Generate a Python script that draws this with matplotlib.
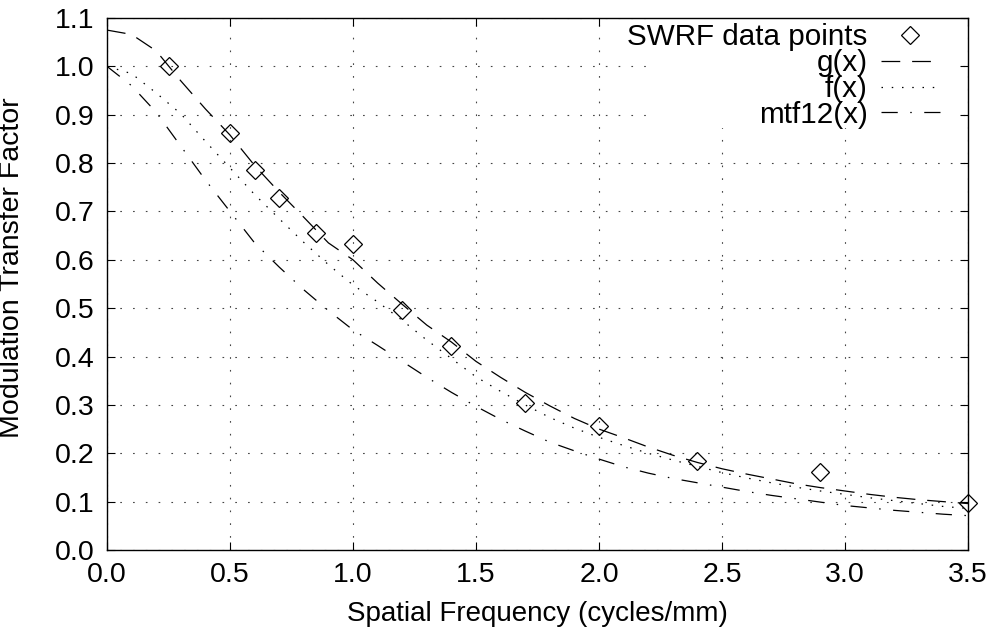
import matplotlib
matplotlib.use("Agg")
import matplotlib.pyplot as plt
from matplotlib.patches import Rectangle

plt.rcParams["font.family"] = ["Liberation Sans", "DejaVu Sans"]

# measured SWRF points
swrf_x = [0.25, 0.5, 0.6, 0.7, 0.85, 1.0, 1.2, 1.4, 1.7, 2.0, 2.4, 2.9, 3.5]
swrf_y = [1.0, 0.862, 0.785, 0.727, 0.655, 0.632, 0.497, 0.422, 0.303, 0.257, 0.183, 0.162, 0.097]

# fitted curves, every 0.1
curve_x = [round(0.1 * i, 1) for i in range(36)]
g_y = [1.075, 1.066, 1.032, 0.97, 0.912, 0.858, 0.795, 0.74, 0.688, 0.635,
       0.6, 0.552, 0.508, 0.465, 0.43, 0.39, 0.357, 0.326, 0.298, 0.272,
       0.25, 0.232, 0.213, 0.196, 0.181, 0.168, 0.157, 0.147, 0.137, 0.129,
       0.122, 0.115, 0.109, 0.104, 0.1, 0.096]
f_y = [1.0, 0.985, 0.945, 0.902, 0.845, 0.79, 0.735, 0.685, 0.636, 0.59,
       0.548, 0.513, 0.475, 0.434, 0.396, 0.358, 0.328, 0.3, 0.274, 0.252,
       0.233, 0.216, 0.2, 0.186, 0.173, 0.16, 0.149, 0.139, 0.13, 0.122,
       0.115, 0.108, 0.102, 0.096, 0.09, 0.086]
mtf12_y = [1.0, 0.96, 0.905, 0.835, 0.765, 0.70, 0.635, 0.585, 0.538, 0.495,
           0.455, 0.423, 0.39, 0.357, 0.326, 0.297, 0.27, 0.246, 0.223, 0.205,
           0.188, 0.172, 0.159, 0.148, 0.139, 0.13, 0.121, 0.113, 0.106, 0.099,
           0.092, 0.087, 0.082, 0.078, 0.074, 0.071]

x_ticks = [0.0, 0.5, 1.0, 1.5, 2.0, 2.5, 3.0, 3.5]
y_ticks = [round(0.1 * i, 1) for i in range(12)]

W, H = 993, 634
fig = plt.figure(figsize=(W / 100, H / 100), dpi=100)
ax = fig.add_axes([107 / W, 1 - 550 / H, 861 / W, 532 / H])
ax.set_axisbelow(True)

pts, = ax.plot(swrf_x, swrf_y, linestyle="none", marker="D", markersize=9.5,
               markerfacecolor="none", markeredgecolor="black", markeredgewidth=0.9,
               label="SWRF data points", clip_on=False, zorder=5)
g_line, = ax.plot(curve_x, g_y, color="black", linewidth=0.9, dashes=(15, 9.5), label="g(x)")
f_line, = ax.plot(curve_x, f_y, color="black", linewidth=0.9, dashes=(1.2, 7), label="f(x)")
m_line, = ax.plot(curve_x, mtf12_y, color="black", linewidth=0.9,
                  dashes=(13, 10, 1.2, 10), label="mtf12(x)")

ax.set_xlim(0, 3.5)
ax.set_ylim(0, 1.1)
ax.set_xticks(x_ticks)
ax.set_yticks(y_ticks)
ax.set_xticklabels([f"{v:.1f}" for v in x_ticks])
ax.set_yticklabels([f"{v:.1f}" for v in y_ticks])
ax.tick_params(direction="in", length=6, width=0.8, labelsize=20.5, pad=9,
               top=True, right=True)
ax.grid(True, color="#444444", linewidth=0.8, dashes=(1.5, 10))
for s in ax.spines.values():
    s.set_linewidth(1.0)
    s.set_color("black")

ax.set_xlabel("Spatial Frequency (cycles/mm)", fontsize=20, labelpad=9)
ax.set_ylabel("Modulation Transfer Factor", fontsize=20.5)
ax.yaxis.set_label_coords(-0.095, 0.53)

# white key area hides the grid behind the legend, like gnuplot's key box
fig_to_ax = fig.transFigure + ax.transAxes.inverted()
(x0, y0), (x1, y1) = fig_to_ax.transform([(652 / W, 1 - 128 / H), (957 / W, 1 - 18 / H)])
ax.add_patch(Rectangle((x0, y0), x1 - x0, y1 - y0, transform=ax.transAxes,
                       facecolor="white", edgecolor="none", zorder=1))

leg_kw = dict(frameon=False, markerfirst=False, fontsize=21.3, handlelength=2.0,
              handletextpad=0.45, borderpad=0, borderaxespad=0,
              bbox_transform=fig.transFigure, loc="center right")
leg1 = ax.legend(handles=[pts], bbox_to_anchor=(940 / W, 1 - 37 / H), **leg_kw)
ax.add_artist(leg1)
ax.legend(handles=[g_line, f_line, m_line], bbox_to_anchor=(940 / W, 1 - 89 / H),
          labelspacing=-0.08, **leg_kw)

fig.savefig("out.png", dpi=100)
